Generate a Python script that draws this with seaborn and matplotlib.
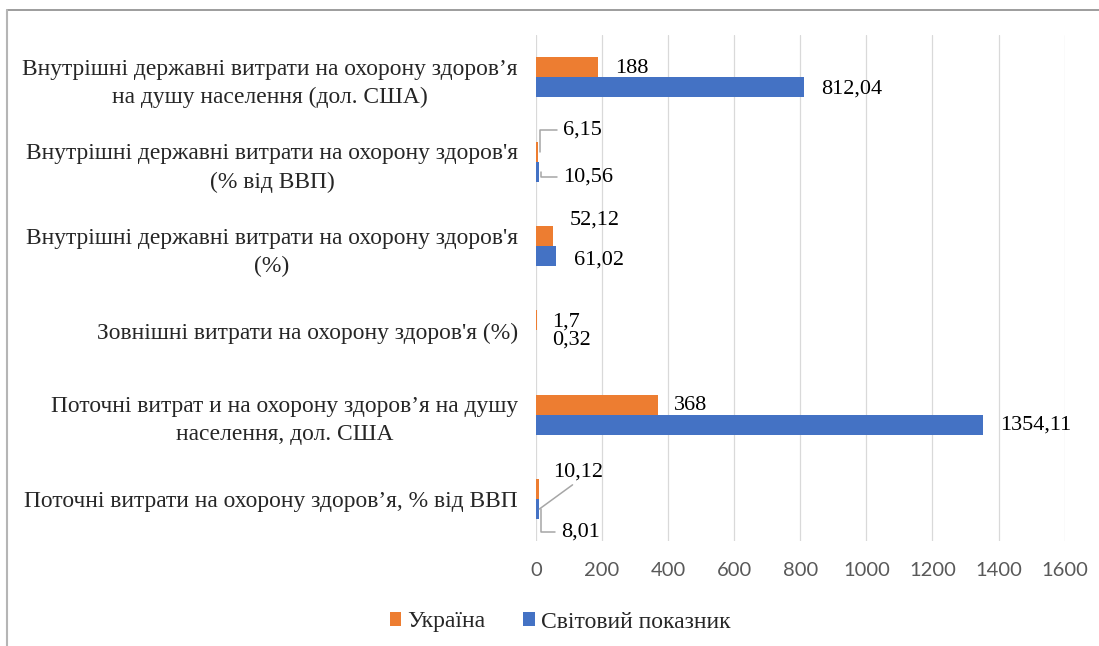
import numpy as np
import pandas as pd
import matplotlib
matplotlib.use("Agg")
import matplotlib.pyplot as plt
import seaborn as sns
from matplotlib.lines import Line2D

# ==========================================
# data
# ==========================================
categories = [
    "Внутрішні державні витрати на охорону здоров’я\nна душу населення (дол. США)",
    "Внутрішні державні витрати на охорону здоров'я\n(% від ВВП)",
    "Внутрішні державні витрати на охорону здоров'я\n(%)",
    "Зовнішні витрати на охорону здоров'я (%)",
    "Поточні витрат и на охорону здоров’я на душу\nнаселення, дол. США",
    "Поточні витрати на охорону здоров’я, % від ВВП",
]
series = ["Україна", "Світовий показник"]
ukraine = [188, 6.15, 52.12, 1.7, 368, 10.12]
world = [812.04, 10.56, 61.02, 0.32, 1354.11, 8.01]
x_ticks = [0, 200, 400, 600, 800, 1000, 1200, 1400, 1600]

colors = ["#ED7D31", "#4472C4"]

# label offsets in pixels (dx, dy; dy down positive) + leader line type
# key: (category index, series index)
label_offsets = {
    (0, 0): (17, 1, None), (1, 0): (23, -22, "angle"), (2, 0): (16, -16, None),
    (3, 0): (16, 2, None), (4, 0): (16, 1, None), (5, 0): (14, -37, "diag"),
    (0, 1): (17, 2, None), (1, 1): (22, 5, "angle"), (2, 1): (18, 4, None),
    (3, 1): (16, 0, None), (4, 1): (17, 0, None), (5, 1): (20, 23, "angle"),
}

df = pd.DataFrame({
    "category": categories * 2,
    "series": [series[0]] * len(categories) + [series[1]] * len(categories),
    "value": ukraine + world,
})

sns.set_style("white")
plt.rcParams["font.family"] = ["Liberation Serif", "DejaVu Serif"]

W, H = 1099, 646
fig = plt.figure(figsize=(W / 100, H / 100), dpi=100)
ax = fig.add_axes([536 / W, 1 - 541.2 / H, (1064.6 - 536) / W, (541.2 - 35.3) / H])

sns.barplot(data=df, y="category", x="value", hue="series", order=categories,
            hue_order=series, palette=colors, orient="h", width=0.475,
            linewidth=0, saturation=1, ax=ax)

ax.set_xlim(0, 1600)
ax.set_xticks(x_ticks)
ax.set_xlabel("")
ax.set_ylabel("")
ax.grid(axis="x", color="#D9D9D9", linewidth=0.9)
ax.set_axisbelow(True)
for sp in ax.spines.values():
    sp.set_visible(False)
ax.tick_params(axis="x", length=0, pad=15, labelsize=14.5, labelcolor="#595959")
ax.tick_params(axis="y", length=0, pad=13, labelsize=16.9)
for lab in ax.get_xticklabels():
    lab.set_family(["Lato", "DejaVu Sans"])
for lab in ax.get_yticklabels():
    lab.set_multialignment("center")
    lab.set_linespacing(1.45)

# value labels
px = 0.72
gap = 2 / 0.3304  # ~2 px in data units
for s_idx, cont in enumerate(ax.containers):
    for c_idx, bar in enumerate(cont.patches):
        val = cont.datavalues[c_idx]
        xe = bar.get_x() + bar.get_width()
        yc = bar.get_y() + bar.get_height() / 2
        dx, dy, leader = label_offsets[(c_idx, s_idx)]
        txt = f"{val:g}".replace(".", ",")
        arrow = None
        xy = (xe, yc)
        if leader == "angle":
            arrow = dict(arrowstyle="-", color="#A6A6A6", lw=1.1, shrinkA=2, shrinkB=0,
                         relpos=(0, 0.5), connectionstyle="angle,angleA=0,angleB=90,rad=0")
            xy = (xe + gap, yc)
        elif leader == "diag":
            arrow = dict(arrowstyle="-", color="#A6A6A6", lw=1.1, shrinkA=0, shrinkB=0,
                         relpos=(0.5, 0.05), connectionstyle="arc3")
            xy = (xe, yc + bar.get_height())
        ax.annotate(txt, xy=xy, xytext=(dx * px, -dy * px), textcoords="offset points",
                    ha="left", va="center", fontsize=16, color="black", arrowprops=arrow)

# legend
handles, labels = ax.get_legend_handles_labels()
ax.get_legend().remove()
fig.legend(handles, labels, loc="center", bbox_to_anchor=(560 / W, 1 - 622 / H),
           ncol=2, frameon=False, fontsize=17, handlelength=0.5, handleheight=0.5,
           handletextpad=0.25, columnspacing=1.6)

# chart-area frame (top and left edges)
fig.add_artist(Line2D([7 / W, 1], [1 - 10 / H, 1 - 10 / H], color="#8C8C8C", lw=1.2))
fig.add_artist(Line2D([7 / W, 7 / W], [0, 1 - 10 / H], color="#B5B5B5", lw=1.5))

fig.savefig("out.png", dpi=100)
